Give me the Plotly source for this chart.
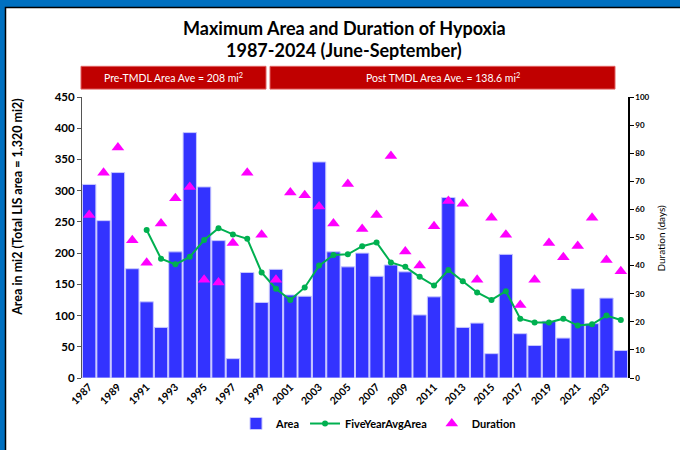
import plotly.graph_objects as go

years = list(range(1987, 2025))
area = [310, 252, 329, 175, 122, 81, 202, 393, 306, 220, 31, 169, 121,
        174, 133, 131, 346, 202, 178, 200, 163, 181, 170, 101, 130, 289,
        81, 88, 39, 198, 71, 52, 91, 64, 143, 87, 128, 44]
duration = [58, 73, 82, 49, 41, 55, 64, 68, 35, 34, 48, 73, 51,
            35, 66, 65, 61, 55, 69, 53, 58, 79, 45, 40, 54, 63,
            62, 35, 57, 51, 26, 35, 48, 43, 47, 57, 42, 38]
avg_years = list(range(1991, 2025))
five_year_avg = [237, 191, 182, 194, 221, 240, 230, 223, 169, 143, 125,
                 145, 180, 197, 198, 211, 217, 185, 178, 162, 148, 173,
                 155, 137, 125, 139, 95, 89, 89, 95, 84, 86, 100, 93]

title_lines = ["Maximum Area and Duration of Hypoxia", "1987-2024 (June-September)"]
banner_texts = ["Pre-TMDL Area Ave = 208 mi<sup>2</sup>", "Post TMDL Area Ave. = 138.6 mi<sup>2</sup>"]

W, H = 680, 450
L, R, T, B = 82, 628, 97, 381
FONT = "Lato, 'Open Sans', 'Liberation Sans', sans-serif"


def px(x):
    return (x - L) / (R - L)


def py(y):
    return (B - y) / (B - T)


fig = go.Figure()
fig.add_trace(go.Bar(x=years, y=area, name="Area",
                     marker=dict(color="#3333FF", line=dict(color="#C8C8FF", width=1)),
                     yaxis="y"))
fig.add_trace(go.Scatter(x=avg_years, y=five_year_avg, name="FiveYearAvgArea",
                         mode="lines+markers",
                         line=dict(color="#00B050", width=2),
                         marker=dict(color="#00B050", size=6), yaxis="y"))
fig.add_trace(go.Scatter(x=years, y=duration, name="Duration", mode="markers",
                         marker=dict(symbol="triangle-up", color="#FF00FF", size=11),
                         yaxis="y2"))

shapes = []
annotations = []
# white inner area over blue paper -> blue frame on top/left
shapes.append(dict(type="rect", xref="paper", yref="paper", x0=px(5.5), x1=px(W + 10), y0=py(H + 10), y1=py(6.5),
                   fillcolor="white", line=dict(color="black", width=1.5), layer="below"))

# banners
for (x0, x1), txt in zip([(81, 266), (270, 615)], banner_texts):
    shapes.append(dict(type="rect", xref="paper", yref="paper", x0=px(x0), x1=px(x1), y0=py(89), y1=py(66),
                       fillcolor="#C00000", line=dict(color="#E06060", width=1)))
    annotations.append(dict(xref="paper", yref="paper", x=px((x0 + x1) / 2), y=py(77.5), text=txt,
                            showarrow=False, font=dict(color="white", size=10.5, family=FONT),
                            xanchor="center", yanchor="middle"))

# title
for line, yy in zip(title_lines, [27, 50]):
    annotations.append(dict(xref="paper", yref="paper", x=px(344), y=py(yy), text=line,
                            showarrow=False, font=dict(color="black", size=18, family=FONT, weight="bold"),
                            xanchor="center", yanchor="middle"))

# axis titles
annotations.append(dict(xref="paper", yref="paper", x=px(18), y=py(208),
                        text="Area in mi2 (Total LIS area = 1,320 mi2)", textangle=-90,
                        showarrow=False, font=dict(color="black", size=12.5, family=FONT, weight="bold"),
                        xanchor="center", yanchor="middle"))
annotations.append(dict(xref="paper", yref="paper", x=px(661), y=py(240),
                        text="Duration (days)", textangle=-90,
                        showarrow=False, font=dict(color="black", size=10, family=FONT),
                        xanchor="center", yanchor="middle"))

fig.update_layout(
    width=W, height=H,
    margin=dict(l=L, r=W - R, t=T, b=H - B),
    paper_bgcolor="#0070C0", plot_bgcolor="white",
    font=dict(family=FONT, color="black"),
    bargap=0.07,
    showlegend=True,
    legend=dict(orientation="h", x=px(236), xanchor="left", y=py(427), yanchor="middle",
                font=dict(size=11, family=FONT, color="black", weight="bold"),
                bgcolor="rgba(0,0,0,0)", traceorder="normal"),
    xaxis=dict(range=[1986.5, 2024.5], tickmode="array",
               tickvals=years[::2], ticktext=[str(y) for y in years[::2]],
               tickangle=-45, tickfont=dict(size=10.5, family=FONT, weight="bold"),
               showgrid=False, zeroline=False, showline=False, ticks=""),
    yaxis=dict(range=[0, 450], dtick=50, tickformat="d", showgrid=False, zeroline=False,
               showline=True, linecolor="#555555", linewidth=1, ticks="outside", ticklen=4,
               tickcolor="#555555", tickfont=dict(size=11.5, family=FONT, weight="bold")),
    yaxis2=dict(range=[0, 100], dtick=10, overlaying="y", side="right", showgrid=False,
                zeroline=False, showline=True, linecolor="black", linewidth=1.5,
                ticks="outside", ticklen=4, tickcolor="black",
                tickfont=dict(size=8, family=FONT, weight="bold")),
    shapes=shapes, annotations=annotations,
)

fig.write_html("out.html", config={"displayModeBar": False},
               post_script="document.body.style.margin='0';")
